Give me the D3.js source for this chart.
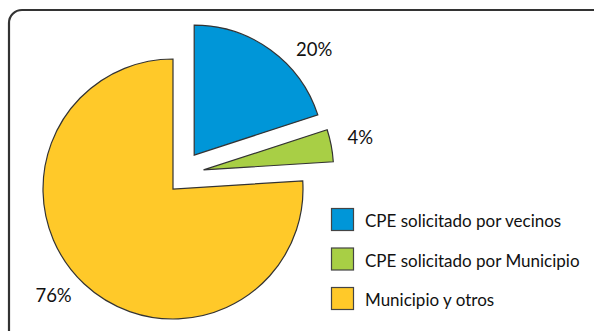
<!DOCTYPE html>
<html>
<head>
<meta charset="utf-8">
<script src="https://cdn.jsdelivr.net/npm/d3@7/dist/d3.min.js"></script>
<style>
  html, body { margin: 0; padding: 0; background: #fff; }
  svg { display: block; }
  text { font-family: Lato, "Open Sans", sans-serif; fill: #111; }
</style>
</head>
<body>
<svg id="chart" width="594" height="331"></svg>
<script>
// Data
const categories = ["CPE solicitado por vecinos", "CPE solicitado por Municipio", "Municipio y otros"];
const values = [20, 4, 76];
const valueLabels = ["20%", "4%", "76%"];
const colors = ["#0096d8", "#a8cf45", "#ffc929"];

// Layout
const W = 594, H = 331;
const center = [173, 189];
const radius = 130;
// slice explosion: distance and direction (degrees clockwise from 12 o'clock)
const explode = [{ d: 40, a: 32 }, { d: 36, a: 58 }, { d: 0, a: 0 }];
// percentage labels: direction from the slice's own centre, distance
const labelDir = [48.6, 78.4, 228.3];
const labelDist = 160;

const svg = d3.select("#chart");

// frame
svg.append("rect")
  .attr("x", 9).attr("y", 10)
  .attr("width", 620).attr("height", 360)
  .attr("rx", 13).attr("ry", 13)
  .attr("fill", "none")
  .attr("stroke", "#333")
  .attr("stroke-width", 2.2);

const pie = d3.pie().sort(null).value(d => d)(values);
const arc = d3.arc().innerRadius(0).outerRadius(radius);
const rad = deg => deg * Math.PI / 180;
const polar = (r, deg) => [r * Math.sin(rad(deg)), -r * Math.cos(rad(deg))];

const g = svg.append("g").attr("transform", `translate(${center[0]},${center[1]})`);

const slices = g.selectAll("g.slice").data(pie).join("g")
  .attr("class", "slice")
  .attr("transform", (d, i) => {
    const [dx, dy] = polar(explode[i].d, explode[i].a);
    return `translate(${dx},${dy})`;
  });

slices.append("path")
  .attr("d", arc)
  .attr("fill", (d, i) => colors[i])
  .attr("stroke", "#333")
  .attr("stroke-width", 1.2)
  .attr("stroke-linejoin", "miter");

slices.append("text")
  .attr("transform", (d, i) => {
    const [x, y] = polar(labelDist, labelDir[i]);
    return `translate(${x},${y})`;
  })
  .attr("text-anchor", "middle")
  .attr("dy", "0.36em")
  .attr("font-size", 18.5)
  .text((d, i) => valueLabels[i]);

// legend
const legend = svg.append("g").attr("transform", "translate(331,208)");
const item = legend.selectAll("g").data(categories).join("g")
  .attr("transform", (d, i) => `translate(0,${i * 39.5})`);
item.append("rect")
  .attr("x", 0.5).attr("y", 0.5)
  .attr("width", 22).attr("height", 22)
  .attr("fill", (d, i) => colors[i])
  .attr("stroke", "#444")
  .attr("stroke-width", 1.2);
item.append("text")
  .attr("x", 34).attr("y", 19)
  .attr("font-size", 17)
  .text(d => d);
</script>
</body>
</html>
